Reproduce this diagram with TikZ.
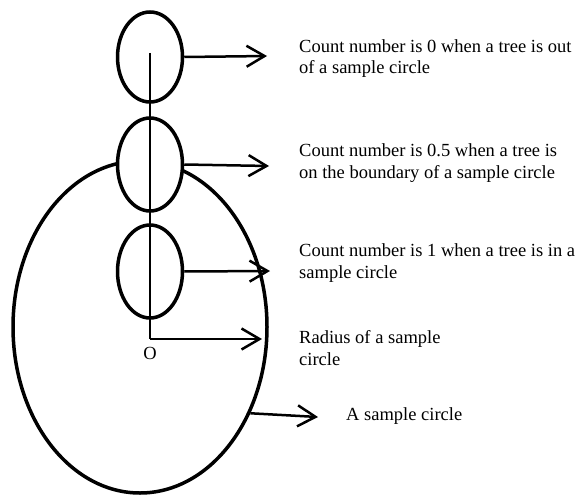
\documentclass[tikz,border=0pt]{standalone}
\usepackage{fontspec}
\setmainfont{Liberation Serif}
\usepackage{tikz}
\usetikzlibrary{arrows.meta, positioning, shapes.geometric, calc}

\begin{document}
\begin{tikzpicture}[
  x=1pt, y=-1pt,
  font=\fontsize{18.5}{21.3}\selectfont,
  ring/.style={ellipse, draw=black, line width=3.5pt, inner sep=0pt},
  tree/.style={ring, fill=white, minimum width=65pt, minimum height=93pt},
  note/.style={anchor=base west, align=left, inner sep=0pt},
  arrow/.style={-{Straight Barb[length=18pt, width=21pt]}, line width=2.5pt, draw=black}
]
\useasboundingbox (0,0) rectangle (578,495);

\node[ring, minimum width=254pt, minimum height=332pt] (sample) at (140,327) {};
\node[tree, minimum height=90pt] (tree0) at (150,57) {};
\node[tree] (tree05) at (150,164.5) {};
\node[tree] (tree1) at (150,271.5) {};

\coordinate (top) at (150,53);
\coordinate (center) at (150,339);
\node (o) at (150,353) {O};

\coordinate (tip0) at (267,56);
\coordinate (tip05) at (269,166);
\coordinate (tip1) at (270,271);
\coordinate (tipr) at (262,339);
\coordinate (tips) at (318,417);

\node[note] (note0) at (299,74) {Count number is 0 when a tree is out\\of a sample circle};
\node[note] (note05) at (299,178) {Count number is 0.5 when a tree is\\on the boundary of a sample circle};
\node[note] (note1) at (299,278) {Count number is 1 when a tree is in a\\sample circle};
\node[note] (noter) at (299,365) {Radius of a sample\\circle};
\node[note] (notes) at (346,420.5) {A sample circle};

\draw[line width=2pt] (top) -- (center);
\draw[arrow] (center) -- (tipr);
\draw[arrow] (tree0.east) -- (tip0);
\draw[arrow] (tree05.east) -- (tip05);
\draw[arrow] (tree1.east) -- (tip1);
\draw[arrow] (sample.-38) -- (tips);
\end{tikzpicture}
\end{document}
